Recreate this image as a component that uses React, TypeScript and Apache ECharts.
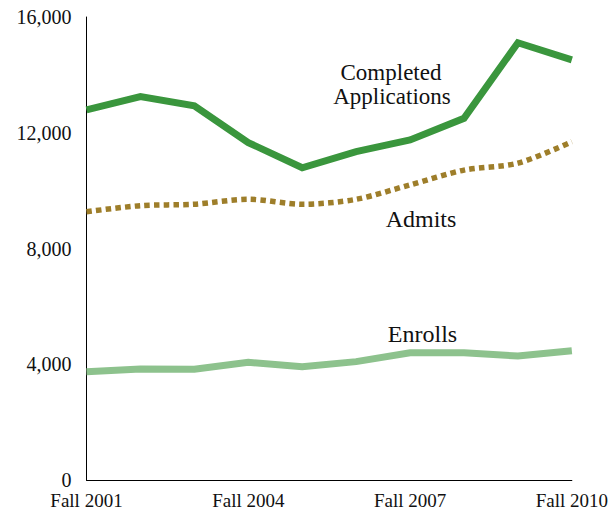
import React, { useEffect, useRef } from "react";
import * as echarts from "echarts";

const categories = [
  "Fall 2001", "Fall 2002", "Fall 2003", "Fall 2004", "Fall 2005",
  "Fall 2006", "Fall 2007", "Fall 2008", "Fall 2009", "Fall 2010",
];
const completedApplications = [12790, 13250, 12930, 11660, 10790, 11350, 11750, 12500, 15110, 14520];
const admits = [9270, 9480, 9530, 9700, 9530, 9700, 10200, 10710, 10950, 11690];
const enrolls = [3740, 3835, 3825, 4065, 3915, 4090, 4400, 4400, 4285, 4470];
const yTicks = { min: 0, max: 16000, interval: 4000 };

const FONT = "'Liberation Serif', 'DejaVu Serif', serif";

export default function App() {
  const ref = useRef<HTMLDivElement>(null);
  useEffect(() => {
    if (!ref.current) return;
    const chart = echarts.init(ref.current, null, { renderer: "svg" });
    const label = (text: string, x: number, y: number, size: number) => ({
      type: "text",
      x,
      y,
      style: {
        text,
        font: `${size}px ${FONT}`,
        fill: "#111",
        align: "center",
        verticalAlign: "middle",
      },
    });
    chart.setOption({
      animation: false,
      backgroundColor: "#ffffff",
      grid: { left: 86.5, right: 36.7, top: 17, bottom: 32, containLabel: false },
      xAxis: {
        type: "category",
        data: categories,
        boundaryGap: false,
        axisLine: { lineStyle: { color: "#000", width: 1 } },
        axisTick: { show: false },
        axisLabel: {
          interval: 2,
          color: "#111",
          fontFamily: FONT,
          fontSize: 19,
          margin: 11,
        },
        splitLine: { show: false },
      },
      yAxis: {
        type: "value",
        min: yTicks.min,
        max: yTicks.max,
        interval: yTicks.interval,
        axisLine: { show: true, lineStyle: { color: "#000", width: 1 } },
        axisTick: { show: false },
        splitLine: { show: false },
        axisLabel: {
          color: "#111",
          fontFamily: FONT,
          fontSize: 20,
          margin: 15,
          formatter: (v: number) => v.toLocaleString("en-US"),
        },
      },
      series: [
        {
          name: "Completed Applications",
          type: "line",
          data: completedApplications,
          showSymbol: false,
          lineStyle: { color: "#3a963d", width: 7, cap: "butt", join: "miter" },
          z: 3,
        },
        {
          name: "Admits",
          type: "line",
          data: admits,
          showSymbol: false,
          smooth: 0.3,
          lineStyle: { color: "#9e7e2a", width: 5.5, type: [5.5, 4.2], cap: "butt" },
          z: 2,
        },
        {
          name: "Enrolls",
          type: "line",
          data: enrolls,
          showSymbol: false,
          lineStyle: { color: "#8dc28d", width: 7, cap: "butt", join: "miter" },
          z: 1,
        },
      ],
      graphic: [
        label("Completed", 391, 72.5, 23),
        label("Applications", 392, 96, 23),
        label("Admits", 421, 219, 24),
        label("Enrolls", 422.5, 334, 24),
      ],
    });
    return () => chart.dispose();
  }, []);
  return (
    <div
      ref={ref}
      style={{ position: "absolute", left: 0, top: 0, width: 611, height: 512 }}
    />
  );
}
